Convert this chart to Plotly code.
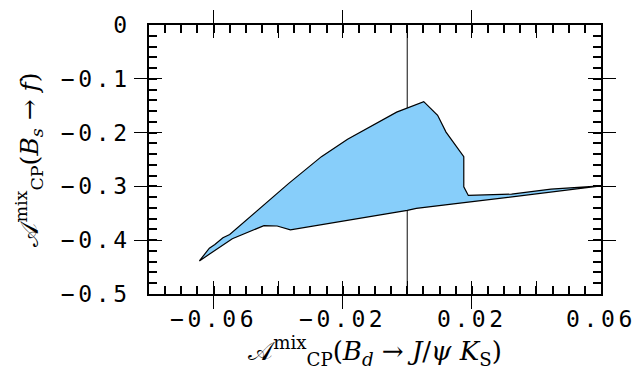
import plotly.graph_objects as go

# Region boundary (upper edge left->right, then lower edge right->left)
region_x = [-0.0644, -0.0613, -0.0596, -0.0571, -0.0550, -0.0368, -0.0266, -0.0185,
            -0.0033, 0.0000, 0.0051, 0.0094, 0.0120, 0.0175, 0.0175, 0.0189,
            0.0323, 0.0445, 0.0600,
            0.0150, 0.0028, 0.0000, -0.0337, -0.0362, -0.0403, -0.0444, -0.0542, -0.0644]
region_y = [-0.4385, -0.4149, -0.4080, -0.3954, -0.3895, -0.2949, -0.2447, -0.2122,
            -0.1619, -0.1543, -0.1424, -0.1679, -0.1991, -0.2447, -0.3009, -0.3168,
            -0.3144, -0.3050, -0.2991,
            -0.3321, -0.3410, -0.3447, -0.3777, -0.3807, -0.3736, -0.3729, -0.3972, -0.4385]

vline_x = [0, 0]
vline_y = [0, -0.5]

x_range = [-0.08, 0.06]
y_range = [-0.5, 0]

fig = go.Figure()
fig.add_trace(go.Scatter(x=vline_x, y=vline_y, mode="lines",
                         line=dict(color="#444444", width=1.3), hoverinfo="skip"))
fig.add_trace(go.Scatter(x=region_x, y=region_y, mode="lines", fill="toself",
                         fillcolor="#87CEFA", line=dict(color="black", width=1.2)))
# invisible traces so the overlay tick axes are drawn
for xa, ya in [("x2", "y"), ("x3", "y"), ("x", "y2")]:
    fig.add_trace(go.Scatter(x=vline_x, y=vline_y, xaxis=xa, yaxis=ya, mode="lines",
                             line=dict(color="rgba(0,0,0,0)", width=0), hoverinfo="skip"))

mono = dict(family="DejaVu Sans Mono", size=23, color="black")
axis_common = dict(showgrid=False, zeroline=False, showline=True, linecolor="black",
                   linewidth=1.5, mirror="allticks", ticks="inside", ticklen=13,
                   tickwidth=1.3, tickcolor="black", tickfont=mono)
tick_only = dict(showticklabels=False, showgrid=False, zeroline=False, showline=False,
                 mirror="allticks", ticks="inside", tickcolor="black")

fig.update_layout(
    xaxis=dict(range=x_range, tickmode="linear", tick0=-0.06, dtick=0.04,
               ticklabelstandoff=4,
               title=dict(text="𝒜<sup>mix</sup><sub>CP</sub>(<i>B<sub>d</sub></i> → <i>J</i>/<i>ψ</i> <i>K</i><sub>S</sub>)",
                          font=dict(family="DejaVu Serif", size=26, color="black"), standoff=6),
               **axis_common),
    xaxis2=dict(range=x_range, overlaying="x", anchor="y", side="bottom",
                tickmode="linear", tick0=-0.04, dtick=0.04, ticklen=13, tickwidth=1.3,
                **tick_only),
    xaxis3=dict(range=x_range, overlaying="x", anchor="y", side="bottom",
                tickmode="linear", tick0=0, dtick=0.005, ticklen=8, tickwidth=1.5,
                **tick_only),
    yaxis=dict(range=y_range, tickmode="linear", tick0=0, dtick=0.1,
               ticklabelstandoff=12,
               title=dict(text="𝒜<sup>mix</sup><sub>CP</sub>(<i>B<sub>s</sub></i> → <i>f</i>)",
                          font=dict(family="DejaVu Serif", size=25, color="black"), standoff=30),
               **axis_common),
    yaxis2=dict(range=y_range, overlaying="y", anchor="x", side="left",
                tickmode="linear", tick0=0, dtick=0.02, ticklen=8, tickwidth=1.5,
                **tick_only),
    width=641, height=381, margin=dict(l=149, r=34, t=12, b=87),
    plot_bgcolor="white", paper_bgcolor="white", showlegend=False)

post = """
document.querySelectorAll('.xtick text, .ytick text').forEach(function(t){
  t.style.letterSpacing='3.6px';
});
"""
fig.write_html("out.html", post_script=post)
